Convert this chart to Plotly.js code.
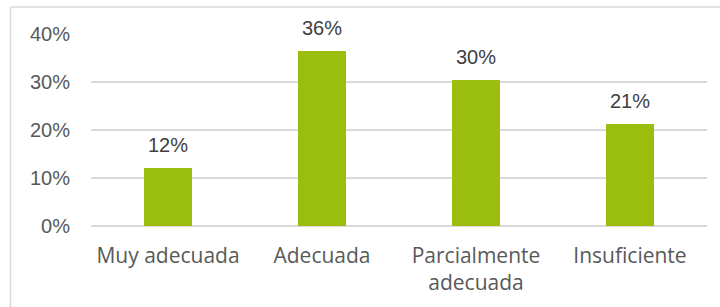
<!DOCTYPE html>
<html>
<head>
<meta charset="utf-8">
<script src="https://cdn.plot.ly/plotly-3.0.1.min.js"></script>
<style>
  html, body { margin: 0; padding: 0; background: #fff; }
  #chart { width: 720px; height: 307px; }
</style>
</head>
<body>
<div id="chart"></div>
<script>
const categories = ["Muy adecuada", "Adecuada", "Parcialmente<br>adecuada", "Insuficiente"];
const values = [0.121, 0.364, 0.304, 0.212];
const valueLabels = ["12%", "36%", "30%", "21%"];
const yTickVals = [0, 0.1, 0.2, 0.3, 0.4];
const yTickText = ["0%", "10%", "20%", "30%", "40%"];

const trace = {
  type: "bar",
  x: categories,
  y: values,
  marker: { color: "#9bbe0e" },
  width: 0.318,
  hoverinfo: "none"
};

const annotations = categories.map((c, i) => ({
  x: c, y: values[i], xref: "x", yref: "y",
  text: valueLabels[i], showarrow: false,
  yanchor: "bottom", yshift: 10,
  font: { family: "Liberation Sans, Arial, sans-serif", size: 20, color: "#404040" }
}));

const layout = {
  width: 720, height: 307,
  margin: { l: 91, r: 13, t: 34, b: 81, pad: 0 },
  paper_bgcolor: "#ffffff",
  plot_bgcolor: "#ffffff",
  showlegend: false,
  bargap: 0,
  xaxis: {
    type: "category",
    showgrid: false, zeroline: false, showline: false,
    ticks: "",
    ticklabelstandoff: 15,
    tickfont: { family: "Open Sans, sans-serif", size: 21, color: "#595959" },
    fixedrange: true
  },
  yaxis: {
    range: [0, 0.4],
    tickvals: yTickVals, ticktext: yTickText,
    showgrid: true, gridcolor: "#d9d9d9", gridwidth: 1.3,
    zeroline: true, zerolinecolor: "#d9d9d9", zerolinewidth: 1.3,
    showline: false, ticks: "",
    ticklabelstandoff: 20,
    tickfont: { family: "Liberation Sans, Arial, sans-serif", size: 20, color: "#595959" },
    fixedrange: true
  },
  annotations: annotations,
  shapes: [
    { type: "line", xref: "paper", yref: "paper",
      x0: (10.5 - 91) / 616, x1: (730 - 91) / 616,
      y0: (226 - 7) / 192, y1: (226 - 7) / 192,
      line: { color: "#d9d9d9", width: 1.5 } },
    { type: "line", xref: "paper", yref: "paper",
      x0: (10.5 - 91) / 616, x1: (10.5 - 91) / 616,
      y0: (226 - 7) / 192, y1: (226 - 320) / 192,
      line: { color: "#d9d9d9", width: 1.5 } }
  ]
};

Plotly.newPlot("chart", [trace], layout, { displayModeBar: false, staticPlot: true });
</script>
</body>
</html>
